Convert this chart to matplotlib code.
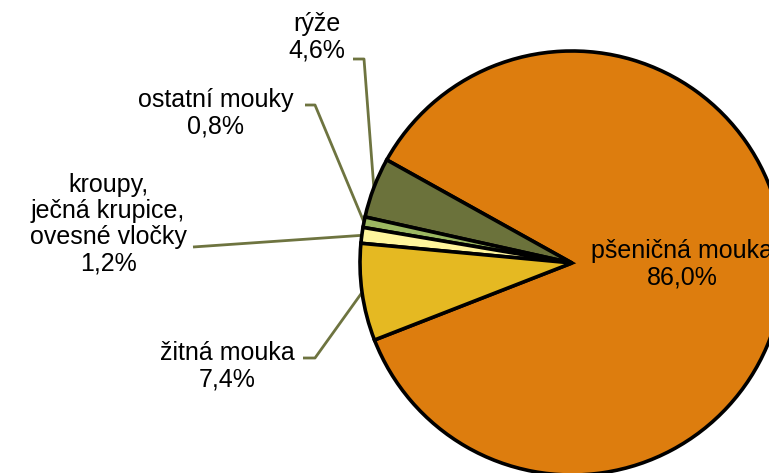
import numpy as np
import matplotlib
matplotlib.use('Agg')
import matplotlib.pyplot as plt

plt.rcParams['font.family'] = ['Liberation Sans', 'DejaVu Sans']

labels = ['pšeničná mouka', 'rýže', 'ostatní mouky',
          'kroupy,\nječná krupice,\novesné vločky', 'žitná mouka']
shares = [86.0, 4.6, 0.8, 1.2, 7.4]
pct_text = ['86,0%', '4,6%', '0,8%', '1,2%', '7,4%']
colors = ['#DD7D0E', '#6B723B', '#9CB862', '#FFF59D', '#E5B922']

W, H = 769, 473
fig = plt.figure(figsize=(W / 100, H / 100), dpi=100)
ax = fig.add_axes([0, 0, 1, 1])

cx, cy, r = 572, H - 263, 212
wedges, _ = ax.pie(shares, colors=colors, startangle=201.3, counterclock=True,
                   center=(cx, cy), radius=r,
                   wedgeprops=dict(edgecolor='black', linewidth=2.6))
ax.set_xlim(0, W)
ax.set_ylim(0, H)
ax.set_aspect('equal')
ax.axis('off')

# label centres and leader elbows, in pixels from top-left
text_pos = [(682, 264), (317, 37), (216, 113), (108, 224), (227, 366)]
elbows = [None,
          [(353, 59), (364, 59)],
          [(305, 105), (315, 105)],
          [(193, 247)],
          [(303, 358), (315, 358)]]

leader = '#6E7440'
for i, w in enumerate(wedges):
    tx, ty = text_pos[i]
    ax.text(tx, H - ty, f'{labels[i]}\n{pct_text[i]}', ha='center', va='center',
            fontsize=18, linespacing=1.12, color='black')
    if elbows[i] is None:
        continue
    mid = np.deg2rad((w.theta1 + w.theta2) / 2)
    ex, ey = cx + r * np.cos(mid), cy + r * np.sin(mid)
    xs = [p[0] for p in elbows[i]] + [ex]
    ys = [H - p[1] for p in elbows[i]] + [ey]
    ax.plot(xs, ys, color=leader, lw=2, solid_capstyle='butt', zorder=0)

fig.savefig('out.png', dpi=100)
